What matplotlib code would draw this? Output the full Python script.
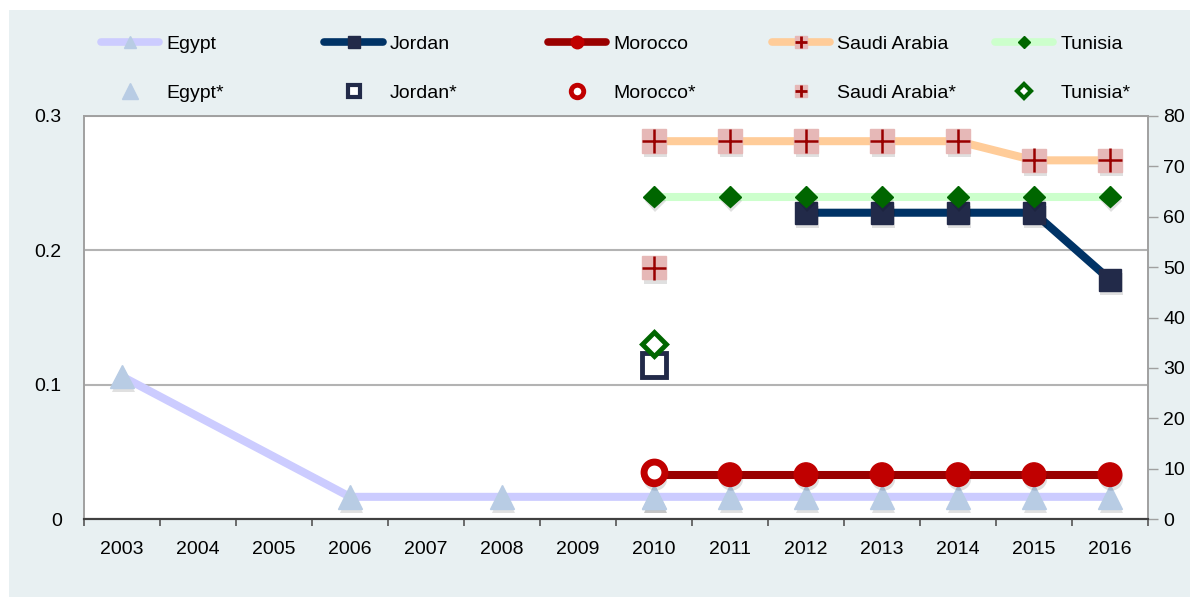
import matplotlib
matplotlib.use('Agg')
import matplotlib.pyplot as plt
import matplotlib.patheffects as pe
from matplotlib.lines import Line2D
from matplotlib.patches import Rectangle
import numpy as np

# ============================================
# Data (0-80)
# ============================================
years = ['2003', '2004', '2005', '2006', '2007', '2008', '2009',
         '2010', '2011', '2012', '2013', '2014', '2015', '2016']
nan = np.nan
egypt = [28.3, nan, nan, 4.4, nan, 4.4, nan, 4.4, 4.4, 4.4, 4.4, 4.4, 4.4, 4.4]
jordan = [nan, nan, nan, nan, nan, nan, nan, nan, nan, 60.8, 60.8, 60.8, 60.8, 47.5]
morocco = [nan, nan, nan, nan, nan, nan, nan, 8.8, 8.8, 8.8, 8.8, 8.8, 8.8, 8.8]
saudi = [nan, nan, nan, nan, nan, nan, nan, 75.0, 75.0, 75.0, 75.0, 75.0, 71.2, 71.2]
tunisia = [nan, nan, nan, nan, nan, nan, nan, 64.0, 64.0, 64.0, 64.0, 64.0, 64.0, 64.0]

# starred series (only 2010)
egypt_star = [nan, nan, nan, nan, nan, nan, nan, 4.4, nan, nan, nan, nan, nan, nan]
jordan_star = [nan, nan, nan, nan, nan, nan, nan, 30.5, nan, nan, nan, nan, nan, nan]
morocco_star = [nan, nan, nan, nan, nan, nan, nan, 9.4, nan, nan, nan, nan, nan, nan]
saudi_star = [nan, nan, nan, nan, nan, nan, nan, 49.9, nan, nan, nan, nan, nan, nan]
tunisia_star = [nan, nan, nan, nan, nan, nan, nan, 34.7, nan, nan, nan, nan, nan, nan]

left_ticks = [0, 0.1, 0.2, 0.3]
left_labels = ['0', '0.1', '0.2', '0.3']
right_ticks = [0, 10, 20, 30, 40, 50, 60, 70, 80]

# ============================================
# Styles
# ============================================
plt.rcParams['font.family'] = ['Liberation Sans', 'DejaVu Sans']
FS = 14
PANEL = '#e8f0f2'

C_EGY_L, C_EGY_M = '#ccccff', '#b8cce4'
C_JOR_L, C_JOR_M = '#003366', '#222a49'
C_MOR_L, C_MOR_M = '#990000', '#c00000'
C_SAU_L, C_SAU_M, C_SAU_P = '#ffcc99', '#e6b8b7', '#990000'
C_TUN_L, C_TUN_M = '#ccffcc', '#006600'

shadow = [pe.SimplePatchShadow(offset=(1, -3), shadow_rgbFace='k', alpha=0.12), pe.Normal()]

fig = plt.figure(figsize=(11.9, 5.97), dpi=100)
fig.patch.set_facecolor('white')
fig.patches.append(Rectangle((9 / 1190, 0), 1 - 9 / 1190, 587 / 597,
                             transform=fig.transFigure, facecolor=PANEL,
                             edgecolor='none', zorder=-10))

ax = fig.add_axes([84 / 1190, 1 - 519 / 597, (1148 - 84) / 1190, (519 - 116) / 597])
ax2 = ax.twinx()
ax.set_zorder(1)
ax2.set_zorder(2)
ax2.patch.set_visible(False)
ax.set_facecolor('white')

x = np.arange(len(years))

def draw_series(vals, lc, z):
    v = np.array(vals, dtype=float)
    m = np.isfinite(v)
    ax2.plot(x[m], v[m], color=lc, lw=5.8, solid_capstyle='butt',
             solid_joinstyle='round', zorder=z)

def draw_markers(vals, z, fx=True, **kw):
    v = np.array(vals, dtype=float)
    m = np.isfinite(v)
    ax2.plot(x[m], v[m], ls='none', zorder=z,
             path_effects=shadow if fx else None, **kw)

# lines
draw_series(egypt, C_EGY_L, 2)
draw_series(morocco, C_MOR_L, 3)
draw_series(jordan, C_JOR_L, 3)
draw_series(tunisia, C_TUN_L, 3)
draw_series(saudi, C_SAU_L, 3)

# markers
draw_markers(egypt, 4, marker='^', ms=17, color=C_EGY_M)
draw_markers(egypt_star, 4, marker='^', ms=17, color=C_EGY_M)
draw_markers(morocco, 5, marker='o', ms=17, color=C_MOR_M)
draw_markers(morocco_star, 5, fx=False, marker='o', ms=15, mfc='white', mec=C_MOR_M, mew=5)
draw_markers(jordan, 5, marker='s', ms=16, color=C_JOR_M)
draw_markers(jordan_star, 5, fx=False, marker='s', ms=17, mfc='white', mec=C_JOR_M, mew=3.5)
draw_markers(tunisia, 6, marker='D', ms=11, color=C_TUN_M)
draw_markers(tunisia_star, 6, fx=False, marker='D', ms=12, mfc='white', mec=C_TUN_M, mew=3.5)
draw_markers(saudi, 6, marker='s', ms=17, color=C_SAU_M)
draw_markers(saudi_star, 6, marker='s', ms=17, color=C_SAU_M)
for vals in (saudi, saudi_star):
    v = np.array(vals, dtype=float)
    m = np.isfinite(v)
    ax2.plot(x[m], v[m], ls='none', marker='+', ms=17, mew=1.8,
             color=C_SAU_P, zorder=7)

# ============================================
# Axes
# ============================================
ax.set_xlim(-0.5, len(years) - 0.5)
ax.set_ylim(0, 0.3)
ax2.set_ylim(0, 80)
ax.set_xticks(x)
ax.set_xticklabels(years, fontsize=FS)
ax.set_xticks(np.arange(-0.5, len(years), 1), minor=True)
ax.tick_params(axis='x', which='major', length=0, pad=16)
ax.tick_params(axis='x', which='minor', length=5, width=1.2, color='#555555', direction='out')
ax.set_yticks(left_ticks)
ax.set_yticklabels(left_labels, fontsize=FS)
ax.tick_params(axis='y', length=0, pad=16)
ax.yaxis.grid(True, color='#b3b3b3', lw=1.5)
ax.set_axisbelow(True)

ax2.set_yticks(right_ticks)
ax2.set_yticklabels([str(t) for t in right_ticks], fontsize=FS)
ax2.tick_params(axis='y', length=7, width=1, color='#a0a0a0', pad=4)

for a in (ax, ax2):
    for s in ('top', 'left', 'right'):
        a.spines[s].set_color('#a0a0a0')
        a.spines[s].set_linewidth(1.2)
    a.spines['bottom'].set_color('#404040')
    a.spines['bottom'].set_linewidth(1.5)

# ============================================
# Legend: one small legend per country column
# ============================================
names = ['Egypt', 'Jordan', 'Morocco', 'Saudi Arabia', 'Tunisia']
line_h = [
    Line2D([], [], color=C_EGY_L, lw=5.5, solid_capstyle='round', marker='^', ms=9,
           mfc=C_EGY_M, mec=C_EGY_M),
    Line2D([], [], color=C_JOR_L, lw=5.5, solid_capstyle='round', marker='s', ms=9,
           mfc=C_JOR_M, mec=C_JOR_M),
    Line2D([], [], color=C_MOR_L, lw=5.5, solid_capstyle='round', marker='o', ms=9,
           mfc=C_MOR_M, mec=C_MOR_M),
    (Line2D([], [], color=C_SAU_L, lw=5.5, solid_capstyle='round', marker='s', ms=9,
            mfc=C_SAU_M, mec=C_SAU_M),
     Line2D([], [], ls='none', marker='+', ms=8, mew=2, color=C_SAU_P)),
    Line2D([], [], color=C_TUN_L, lw=5.5, solid_capstyle='round', marker='D', ms=6,
           mfc=C_TUN_M, mec=C_TUN_M),
]
star_h = [
    Line2D([], [], ls='none', marker='^', ms=11, mfc=C_EGY_M, mec=C_EGY_M),
    Line2D([], [], ls='none', marker='s', ms=8, mfc='white', mec=C_JOR_M, mew=3),
    Line2D([], [], ls='none', marker='o', ms=9, mfc='white', mec=C_MOR_M, mew=3.5),
    (Line2D([], [], ls='none', marker='s', ms=9, mfc=C_SAU_M, mec=C_SAU_M),
     Line2D([], [], ls='none', marker='+', ms=8, mew=2, color=C_SAU_P)),
    Line2D([], [], ls='none', marker='D', ms=7, mfc='white', mec=C_TUN_M, mew=3),
]
for i, name in enumerate(names):
    x0 = (101 + i * 223.5) / 1190
    fig.legend(handles=[line_h[i], star_h[i]], labels=[name, name + '*'],
               loc='center left', bbox_to_anchor=(x0, 1 - 68.5 / 597),
               frameon=False, fontsize=FS, handlelength=3.0, handletextpad=0.35,
               labelspacing=1.6, borderpad=0, borderaxespad=0)

fig.savefig('out.png', dpi=100, facecolor=fig.get_facecolor())
